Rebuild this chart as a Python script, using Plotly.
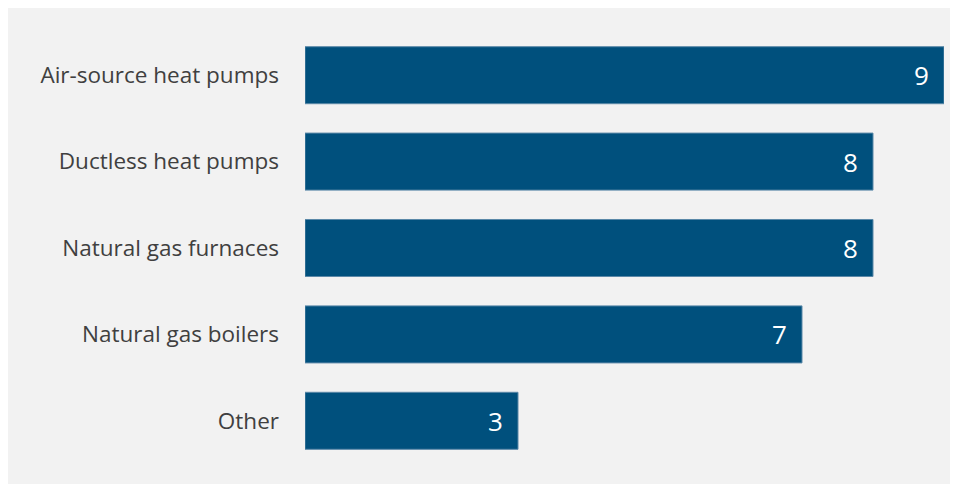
import plotly.graph_objects as go

categories = ["Air-source heat pumps", "Ductless heat pumps", "Natural gas furnaces", "Natural gas boilers", "Other"]
values = [9, 8, 8, 7, 3]

W, H = 958, 484

fig = go.Figure(go.Bar(
    y=categories, x=values, orientation="h",
    marker=dict(color="#00507d", line=dict(color="#5b88a8", width=1)),
    hoverinfo="skip",
))

for c, v in zip(categories, values):
    fig.add_annotation(x=v, y=c, text=str(v), showarrow=False, xanchor="right",
                       xshift=-13, font=dict(color="white", size=26, family="Open Sans"))

fig.update_layout(
    width=W, height=H,
    margin=dict(l=297, r=22, t=24, b=28),
    paper_bgcolor="#f2f2f2", plot_bgcolor="#f2f2f2",
    bargap=0.34, showlegend=False,
    font=dict(family="Open Sans", color="#404040"),
    xaxis=dict(range=[0, 9], visible=False, fixedrange=True),
    yaxis=dict(autorange="reversed", showgrid=False, zeroline=False, showline=False,
               ticks="", ticklabelstandoff=25, tickfont=dict(size=22.5, color="#404040")),
)

fig.write_html("out.html")
